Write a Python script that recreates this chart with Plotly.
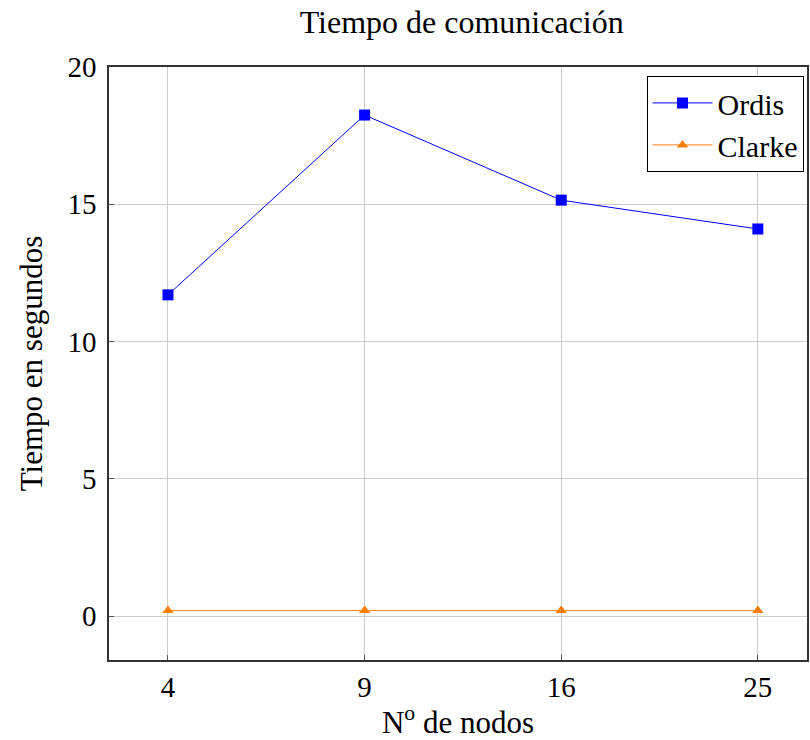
import plotly.graph_objects as go

nodos = ["4", "9", "16", "25"]
ordis = [11.7, 18.25, 15.15, 14.1]
clarke = [0.2, 0.2, 0.2, 0.2]
y_ticks = [0, 5, 10, 15, 20]

FONT = "Liberation Serif"

fig = go.Figure()
fig.add_trace(go.Scatter(
    x=list(range(len(nodos))), y=ordis, name="Ordis", mode="lines+markers",
    line=dict(color="#0000ff", width=1),
    marker=dict(symbol="square", size=11, color="#0000ff"),
))
fig.add_trace(go.Scatter(
    x=list(range(len(nodos))), y=clarke, name="Clarke", mode="lines+markers",
    line=dict(color="#ff7f0e", width=1),
    marker=dict(symbol="triangle-up", size=10, color="#ff7f0e"),
))

fig.update_layout(
    width=810, height=740,
    margin=dict(l=109, r=1, t=67, b=80),
    paper_bgcolor="white", plot_bgcolor="white",
    font=dict(family=FONT, color="black", size=29),
    title=dict(text="Tiempo de comunicación", x=0.57, xanchor="center",
               y=0.97, yanchor="middle", font=dict(size=32, family=FONT)),
    showlegend=True,
    legend=dict(x=0.995, y=0.985, xanchor="right", yanchor="top",
                bordercolor="black", borderwidth=1, bgcolor="white",
                font=dict(size=30, family=FONT), tracegroupgap=0,
                itemwidth=60),
)
fig.update_xaxes(
    tickmode="array", tickvals=list(range(len(nodos))), ticktext=nodos,
    range=[-0.3, 3.25], showgrid=True, gridcolor="#cccccc", gridwidth=1,
    showline=True, linecolor="#333333", linewidth=1.5, mirror=True,
    ticks="inside", ticklen=5, tickcolor="#555555", zeroline=False,
    tickfont=dict(size=29), title=dict(text="N<sup>o</sup> de nodos", font=dict(size=31), standoff=10),
)
fig.update_yaxes(
    tickmode="array", tickvals=y_ticks, range=[-1.6, 20],
    showgrid=True, gridcolor="#cccccc", gridwidth=1,
    showline=True, linecolor="#333333", linewidth=1.5, mirror=True,
    ticks="inside", ticklen=5, tickcolor="#555555", zeroline=False,
    ticklabelstandoff=5,
    tickfont=dict(size=29), title=dict(text="Tiempo en segundos", font=dict(size=31), standoff=16),
)

fig.write_html("out.html")
